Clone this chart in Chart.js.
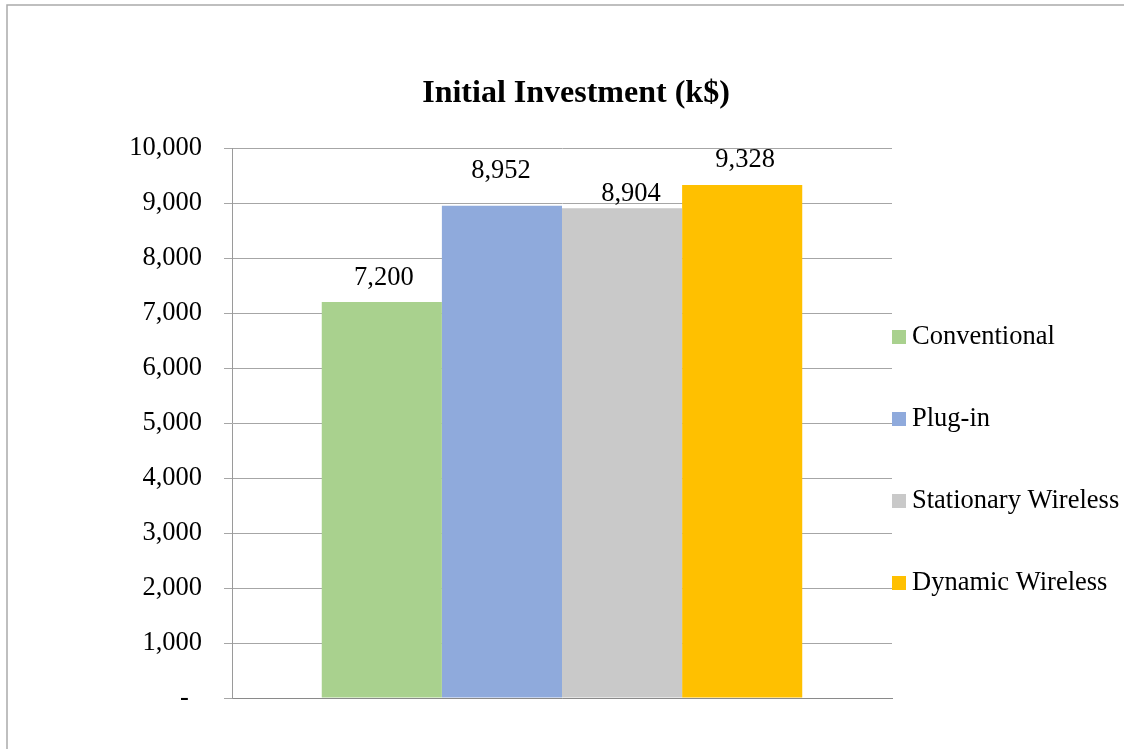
<!DOCTYPE html>
<html>
<head>
<meta charset="utf-8">
<title>Initial Investment (k$)</title>
<script src="https://cdn.jsdelivr.net/npm/chart.js@4/dist/chart.umd.min.js"></script>
<style>
  html, body { margin: 0; padding: 0; background: #fff; }
  canvas { display: block; }
</style>
</head>
<body>
<canvas id="investment-chart" width="1124" height="749"></canvas>
<script>
const chartTitle = 'Initial Investment (k$)';
const categories = [''];
const seriesNames = ['Conventional', 'Plug-in', 'Stationary Wireless', 'Dynamic Wireless'];
const seriesValues = [7200, 8952, 8904, 9328];
const seriesColors = ['#A9D18E', '#8FAADC', '#C9C9C9', '#FFC000'];
const yTickLabels = ['-', '1,000', '2,000', '3,000', '4,000', '5,000', '6,000', '7,000', '8,000', '9,000', '10,000'];

// value labels sit at slightly different heights so they don't collide
const labelLift = [17, 28, 7, 18];
const labelShift = [2, -1, 9, 3];

const SERIF = '"Liberation Serif", "Times New Roman", serif';

const chartDecor = {
    id: 'chartDecor',
    beforeDraw(chart) {
        const { ctx, width, height } = chart;
        ctx.save();
        ctx.strokeStyle = '#ababab';
        ctx.lineWidth = 1.5;
        ctx.beginPath();
        ctx.moveTo(7, height);
        ctx.lineTo(7, 5);
        ctx.lineTo(width, 5);
        ctx.stroke();
        ctx.restore();
    },
    afterDatasetsDraw(chart) {
        const { ctx, chartArea } = chart;
        ctx.save();

        // title
        ctx.fillStyle = '#000';
        ctx.font = `bold 32px ${SERIF}`;
        ctx.textAlign = 'center';
        ctx.textBaseline = 'alphabetic';
        ctx.fillText(chartTitle, 576, 102);

        // value labels above the bars
        ctx.font = `26.5px ${SERIF}`;
        chart.data.datasets.forEach((ds, i) => {
            const bar = chart.getDatasetMeta(i).data[0];
            ctx.fillText(ds.data[0].toLocaleString('en-US'), bar.x + labelShift[i], bar.y - labelLift[i]);
        });

        // legend on the right
        ctx.textAlign = 'left';
        ctx.textBaseline = 'middle';
        chart.data.datasets.forEach((ds, i) => {
            const y = 337 + i * 82;
            ctx.fillStyle = ds.backgroundColor;
            ctx.fillRect(chartArea.right, y - 7, 14, 14);
            ctx.fillStyle = '#000';
            ctx.fillText(ds.label, chartArea.right + 20, y);
        });
        ctx.restore();
    },
};

const buildChart = (canvasId) => {
    const canvas = document.getElementById(canvasId);
    if (!canvas || typeof Chart === 'undefined') return null;
    Chart.defaults.font.family = SERIF;
    Chart.defaults.font.size = 26;
    Chart.defaults.color = '#000';
    return new Chart(canvas, {
        type: 'bar',
        data: {
            labels: categories,
            datasets: seriesNames.map((name, i) => ({
                label: name,
                data: [seriesValues[i]],
                backgroundColor: seriesColors[i],
                borderWidth: 0,
                barPercentage: 1,
                categoryPercentage: 0.728,
            })),
        },
        options: {
            responsive: false,
            devicePixelRatio: 1,
            animation: false,
            layout: { padding: { top: 148, right: 232, bottom: 0, left: 0 } },
            plugins: {
                legend: { display: false },
                title: { display: false },
                tooltip: { enabled: false },
            },
            scales: {
                x: {
                    ticks: { display: false },
                    grid: { display: false },
                    border: { color: '#8a8a8a', width: 1 },
                    afterFit: (scale) => { scale.height = 51; },
                },
                y: {
                    min: 0,
                    max: 10000,
                    ticks: {
                        stepSize: 1000,
                        padding: 22,
                        font: { size: 26.5 },
                        callback: (value, index) => (index === 0 ? yTickLabels[0] + '  ' : yTickLabels[index]),
                    },
                    grid: { color: '#a6a6a6', lineWidth: 1, tickLength: 8 },
                    border: { color: '#9a9a9a', width: 1 },
                    afterFit: (scale) => { scale.width = 232; },
                },
            },
        },
        plugins: [chartDecor],
    });
};

buildChart('investment-chart');
</script>
</body>
</html>
